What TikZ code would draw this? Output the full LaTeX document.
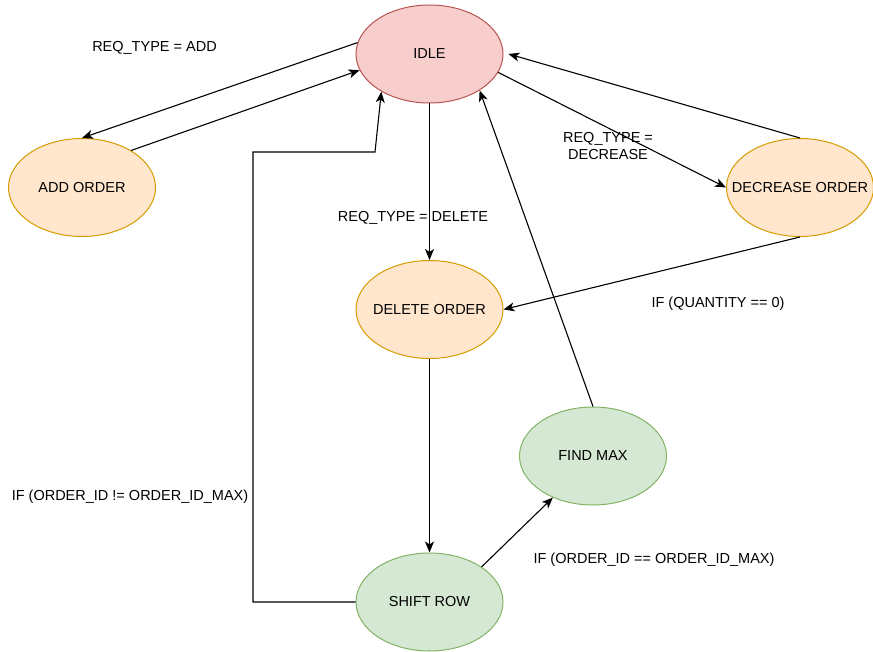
\documentclass[tikz,border=0pt]{standalone}
\usepackage{fontspec}
\setmainfont{Liberation Sans}
\usetikzlibrary{arrows.meta,shapes.geometric}
\definecolor{redfill}{HTML}{F8CECC}
\definecolor{redline}{HTML}{B85450}
\definecolor{orfill}{HTML}{FFE6CC}
\definecolor{orline}{HTML}{D79B00}
\definecolor{grfill}{HTML}{D5E8D4}
\definecolor{grline}{HTML}{82B366}
\begin{document}
\begin{tikzpicture}[x=1pt,y=-1pt,
  font=\fontsize{14.5}{17}\selectfont,
  state/.style={ellipse,draw,line width=1pt,minimum width=147pt,minimum height=98pt,inner sep=0pt},
  redstate/.style={state,fill=redfill,draw=redline},
  orstate/.style={state,fill=orfill,draw=orline},
  grstate/.style={state,fill=grfill,draw=grline},
  conn/.style={draw,line width=1.1pt,-{Stealth[length=11pt,width=9pt,inset=3pt]}},
  lbl/.style={align=center,inner sep=0pt}]
\useasboundingbox (0,0) rectangle (873,652);

\node[redstate] (idle) at (429.5,54) {\makebox[0pt]{IDLE}};
\node[orstate] (add) at (82,187.5) {\makebox[0pt]{ADD ORDER}};
\node[orstate] (dec) at (800,187.5) {\makebox[0pt]{DECREASE ORDER}};
\node[orstate] (del) at (429.5,309.5) {\makebox[0pt]{DELETE ORDER}};
\node[grstate] (fm) at (593,456) {\makebox[0pt]{FIND MAX}};
\node[grstate] (sr) at (429.5,602) {\makebox[0pt]{SHIFT ROW}};

\coordinate (c1) at (253,602);
\coordinate (c2) at (253,152);
\coordinate (c3) at (375,152);

\path[conn] (idle.171) -- (add.north);
\path[conn] (add.37) -- (idle.193);
\path[conn] (idle.south) -- (del.north);
\path[conn] (idle.-15) -- (dec.west);
\path[conn] (dec.north) -- ([xshift=5pt]idle.east);
\path[conn] (dec.south) -- (del.east);
\path[conn] (fm.north) -- (idle.-36);
\path[conn] (del.south) -- (sr.north);
\path[conn] (sr.34) -- (fm.226);
\path[conn] (sr.west) -- (c1) -- (c2) -- (c3) -- (idle.218);

\node[lbl] (l1) at (154.5,48) {REQ\_TYPE = ADD};
\node[lbl] (l2) at (608,146) {REQ\_TYPE =\\DECREASE};
\node[lbl] (l3) at (413,218) {REQ\_TYPE = DELETE};
\node[lbl] (l4) at (718,304) {IF (QUANTITY == 0)};
\node[lbl] (l5) at (654,560) {IF (ORDER\_ID == ORDER\_ID\_MAX)};
\node[lbl] (l6) at (130,497) {IF (ORDER\_ID != ORDER\_ID\_MAX)};
\end{tikzpicture}
\end{document}
